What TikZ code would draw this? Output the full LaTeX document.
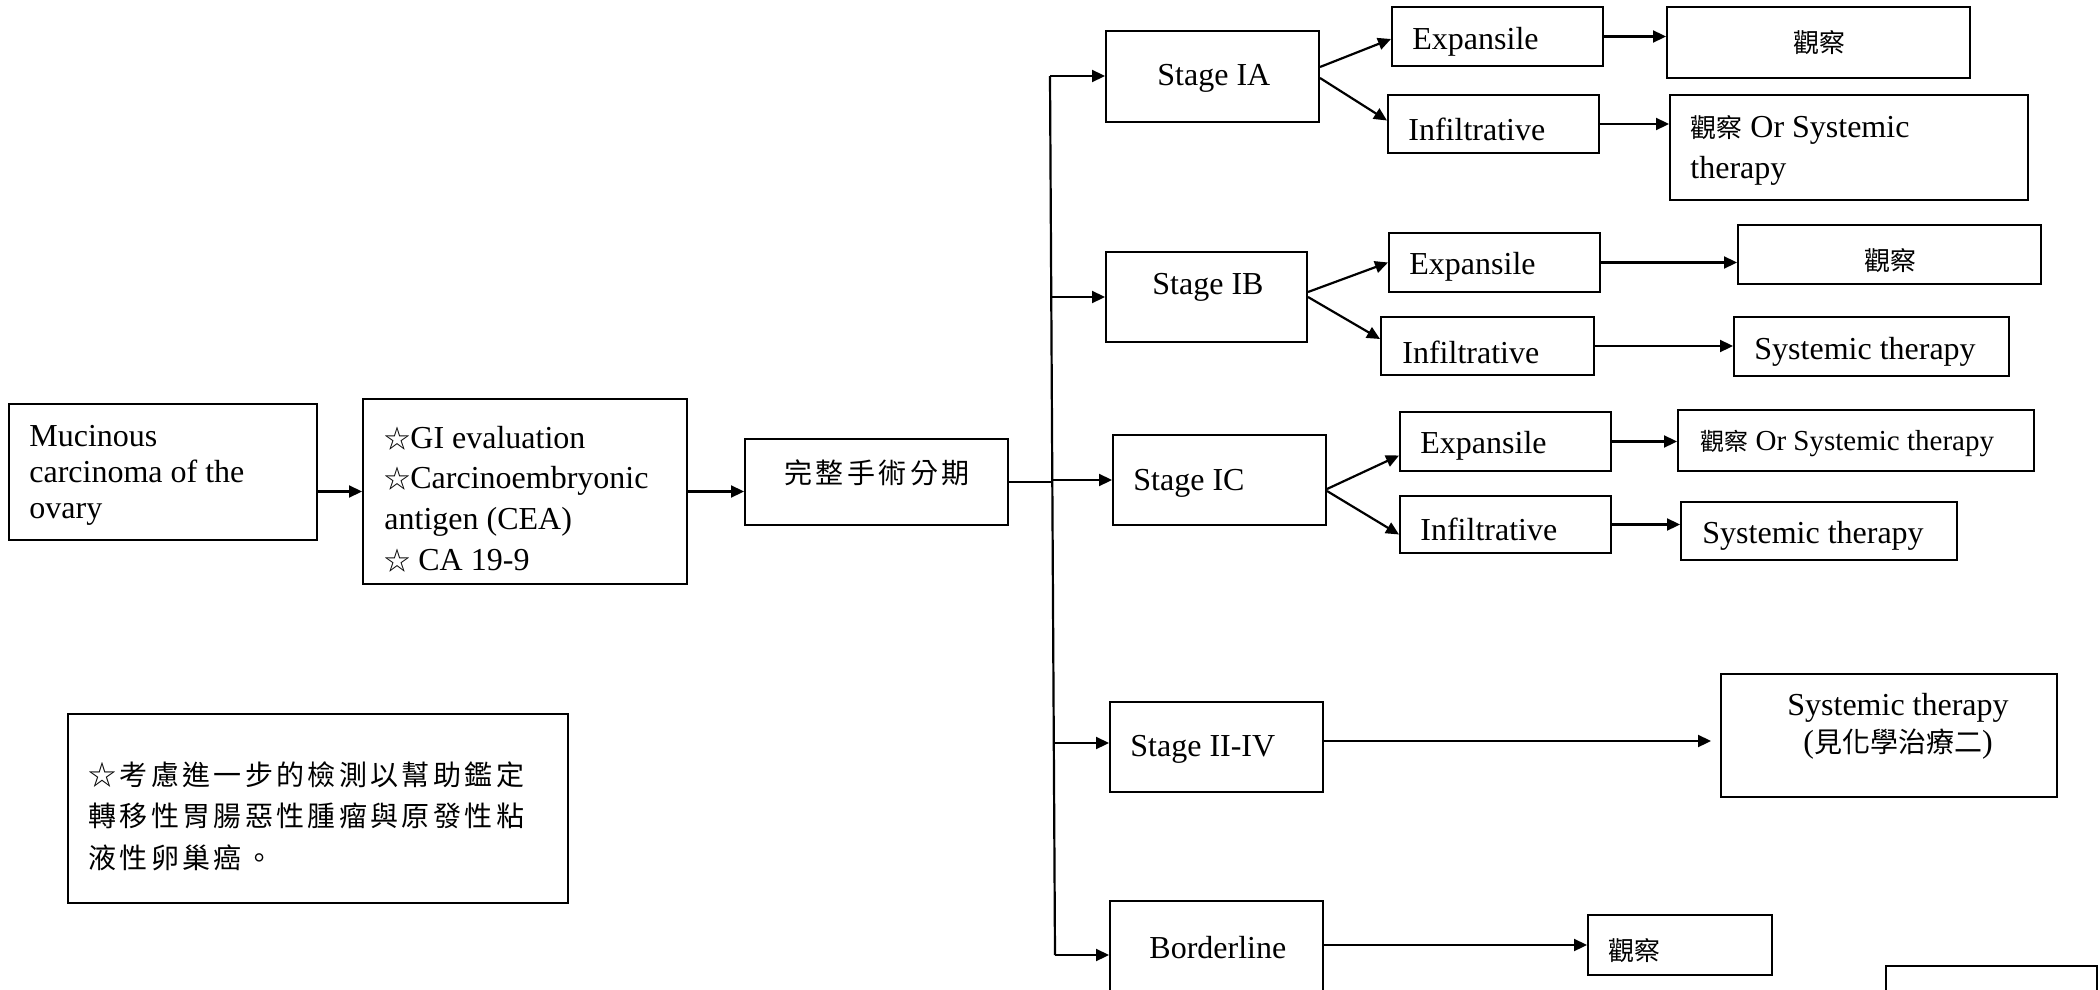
\documentclass[tikz,border=0pt]{standalone}
\usepackage{fontspec}
\setmainfont{Liberation Serif}
\newfontfamily\cjk{Noto Sans CJK TC}
\newfontfamily\cjkwide{Noto Sans CJK TC}[LetterSpace=12]
\usetikzlibrary{arrows.meta,calc}

% box given by its left, top, right and bottom edges (y grows downwards)
\newcommand\mkbox[5]{%
  \node[frame, minimum width={(#4-#2)*0.5pt}, minimum height={(#5-#3)*0.5pt}]
    (#1) at ({(#2+#4)/2},{(#3+#5)/2}) {};}
\newcommand\wstar{{\cjk\fontsize{13}{13}\selectfont ☆}}
\newcommand\obs{{\cjk\fontsize{13}{13}\selectfont 觀察}}

\begin{document}
\begin{tikzpicture}[x=0.5pt,y=-0.5pt,
  frame/.style={draw, line width=1pt, inner sep=0pt},
  txt/.style={inner sep=0pt, yshift=-2pt, font=\fontsize{16}{18}\selectfont, align=left},
  cjktxt/.style={inner sep=0pt, font=\fontsize{14}{20.75}\selectfont\cjkwide, align=left},
  arr/.style={line width=1.1pt, -{Triangle[length=6.5pt,width=6pt]}},
  link/.style={line width=1.1pt}]
\clip (0,0) rectangle (2100,990);
\fill[white] (0,0) rectangle (2100,990);

% ---- boxes ----
\mkbox{muc}{9}{404}{317}{540}
\mkbox{ev}{363}{399}{687}{584}
\mkbox{op}{745}{439}{1008}{525}
\mkbox{note}{68}{714}{568}{903}
\mkbox{sIA}{1106}{31}{1319}{122}
\mkbox{exIA}{1392}{7}{1603}{66}
\mkbox{obIA}{1667}{7}{1970}{78}
\mkbox{inIA}{1388}{95}{1599}{153}
\mkbox{orIA}{1670}{95}{2028}{200}
\mkbox{sIB}{1106}{252}{1307}{342}
\mkbox{exIB}{1389}{233}{1600}{292}
\mkbox{obIB}{1738}{225}{2041}{284}
\mkbox{inIB}{1381}{317}{1594}{375}
\mkbox{syIB}{1734}{317}{2009}{376}
\mkbox{sIC}{1113}{435}{1326}{525}
\mkbox{exIC}{1400}{412}{1611}{471}
\mkbox{orIC}{1678}{410}{2034}{471}
\mkbox{inIC}{1400}{496}{1611}{553}
\mkbox{syIC}{1681}{502}{1957}{560}
\mkbox{s24}{1110}{702}{1323}{792}
\mkbox{sy24}{1721}{674}{2057}{797}
\mkbox{sBL}{1110}{901}{1323}{1030}
\mkbox{obBL}{1588}{915}{1772}{975}
\mkbox{nxt}{1886}{966}{2097}{1040}

% ---- texts ----
\node[txt, anchor=west] (tmuc) at (29,471) {Mucinous\\carcinoma of the\\ovary};
\node[txt, anchor=west, font=\fontsize{16}{20.3}\selectfont] (tev) at (384,495)
  {\wstar GI evaluation\\\wstar Carcinoembryonic\\antigen (CEA)\\\wstar{} CA 19-9};
\node[cjktxt] (top) at (877,473) {完整手術分期};
\node[cjktxt, anchor=west] (tnote) at (88,816)
  {☆考慮進一步的檢測以幫助鑑定\\轉移性胃腸惡性腫瘤與原發性粘\\液性卵巢癌。};

\node[txt, anchor=west] (tsIA) at (1157,74) {Stage IA};
\node[txt, anchor=west] (texIA) at (1412,38) {Expansile};
\node[txt] (tobIA) at (1819,39) {\obs};
\node[txt, anchor=west] (tinIA) at (1408,125) {Infiltrative};
\node[txt, anchor=west, font=\fontsize{16}{20.5}\selectfont] (torIA) at (1690,146)
  {\obs{} Or Systemic\\therapy};

\node[txt, anchor=west] (tsIB) at (1152,283) {Stage IB};
\node[txt, anchor=west] (texIB) at (1409,263) {Expansile};
\node[txt] (tobIB) at (1890,257) {\obs};
\node[txt, anchor=west] (tinIB) at (1402,348) {Infiltrative};
\node[txt, anchor=west] (tsyIB) at (1754,348) {Systemic therapy};

\node[txt, anchor=west] (tsIC) at (1133,479) {Stage IC};
\node[txt, anchor=west] (texIC) at (1420,442) {Expansile};
\node[txt, anchor=west, font=\fontsize{14.5}{16}\selectfont] (torIC) at (1700,439)
  {{\cjk\fontsize{12}{12}\selectfont 觀察} Or Systemic therapy};
\node[txt, anchor=west] (tinIC) at (1420,525) {Infiltrative};
\node[txt, anchor=west] (tsyIC) at (1702,532) {Systemic therapy};

\node[txt, anchor=west] (ts24) at (1130,745) {Stage II-IV};
\node[txt, align=center, font=\fontsize{16}{18.5}\selectfont] (tsy24) at (1898,722)
  {Systemic therapy\\({\cjk\fontsize{14}{14}\selectfont 見化學治療二})};

\node[txt, anchor=west] (tsBL) at (1149,944) {Borderline};
\node[txt, anchor=west] (tobBL) at (1608,947) {\obs};

% ---- connectors ----
\draw[arr] (muc.east |- ev.west) -- (ev.west);
\draw[arr] (ev.east) -- (op.west |- ev.east);

\coordinate (jop) at (1051,482);
\coordinate (jtop) at (1050,76);
\coordinate (jIB) at (1051,297);
\coordinate (jIC) at (1052,480);
\coordinate (j24) at (1054,743);
\coordinate (jbot) at (1055,955);
\draw[link] (op.east) -- (jop);
\draw[link] (jtop) -- (jbot);
\draw[arr] (jtop) -- (sIA.west |- jtop);
\draw[arr] (jIB) -- (sIB.west |- jIB);
\draw[arr] (jIC) -- (sIC.west |- jIC);
\draw[arr] (j24) -- (s24.west |- j24);
\draw[arr] (jbot) -- (sBL.west |- jbot);

\draw[arr] ($(sIA.east)+(0,-9.5)$) -- ($(exIA.west)+(0,2.5)$);
\draw[arr] ($(sIA.east)+(0,1.5)$) -- ($(inIA.west)+(0,-3.5)$);
\draw[arr] ($(sIB.east)+(0,-5)$) -- (exIB.west);
\draw[arr] (sIB.east) -- ($(inIB.west)+(0,-7)$);
\draw[arr] ($(sIC.east)+(0,9)$) -- ($(exIC.west)+(0,14)$);
\draw[arr] ($(sIC.east)+(0,11)$) -- ($(inIC.west)+(0,10)$);

\draw[arr] (exIA.east) -- (obIA.west |- exIA.east);
\draw[arr] (inIA.east) -- (orIA.west |- inIA.east);
\draw[arr] (exIB.east) -- (obIB.west |- exIB.east);
\draw[arr] (inIB.east) -- (syIB.west |- inIB.east);
\draw[arr] (exIC.east) -- (orIC.west |- exIC.east);
\draw[arr] (inIC.east) -- (syIC.west |- inIC.east);
\draw[arr, shorten >=4.5pt] ($(s24.east)+(0,-6)$) -- ($(sy24.west)+(0,5.5)$);
\draw[arr] (sBL.east |- obBL.west) -- (obBL.west);
\end{tikzpicture}
\end{document}
